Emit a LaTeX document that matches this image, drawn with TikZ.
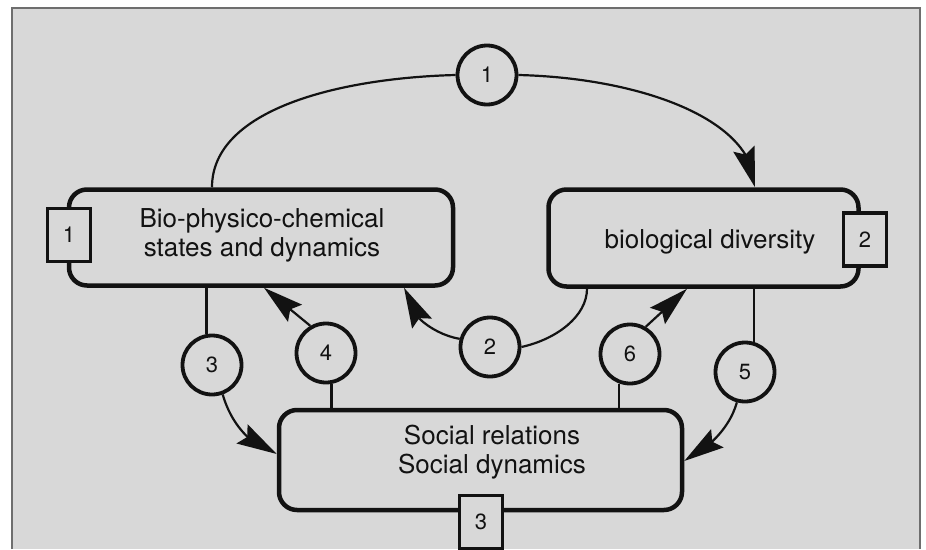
\documentclass[tikz,border=0pt]{standalone}
\usepackage{fontspec}
\setmainfont{TeX Gyre Heros}
\usetikzlibrary{arrows.meta,bending}
\definecolor{paper}{RGB}{216,216,216}
\definecolor{ink}{RGB}{18,18,18}
\definecolor{framecol}{RGB}{110,110,110}
\tikzset{
  bigbox/.style={draw=ink, line width=4.5pt, rounded corners=18pt, fill=paper, inner sep=0pt},
  boxtext/.style={text=ink, font=\fontsize{26}{29}\selectfont, align=center, inner sep=0pt},
  numcircle/.style={circle, draw=ink, line width=3.8pt, fill=paper, minimum size=59pt,
    inner sep=0pt, font=\fontsize{22}{22}\selectfont, text=ink},
  numsquare/.style={rectangle, draw=ink, line width=3.8pt, fill=paper, inner sep=0pt,
    minimum width=43pt, minimum height=53pt, font=\fontsize{22}{22}\selectfont, text=ink},
  link/.style={draw=ink, line width=2.2pt},
  arrowed/.style={-{Stealth[length=40pt,width=22pt,inset=6pt,flex]}}
}

\begin{document}
\begin{tikzpicture}[x=1pt,y=-1pt]
\useasboundingbox (0,0) rectangle (926,549);

% page and frame
\fill[white] (0,0) rectangle (926,549);
\fill[paper] (12,8) rectangle (920,549);
\draw[framecol, line width=1.2pt] (12,549) -- (12,8) -- (920,8) -- (920,549);

% the three domains
\node[bigbox, minimum width=384pt, minimum height=96pt] (box1) at (261,237.5) {};
\node[bigbox, minimum width=310pt, minimum height=97pt] (box2) at (703.5,238) {};
\node[bigbox, minimum width=403pt, minimum height=100pt] (box3) at (480.5,460) {};

\node[boxtext] (t1) at (262,235) {Bio-physico-chemical\\states and dynamics};
\node[boxtext] (t2) at (710,241.5) {biological diversity};
\node[boxtext] (t3) at (492,452.5) {Social relations\\Social dynamics};

\node[numsquare] (s1) at (69,235) {1};
\node[numsquare] (s2) at (865,239.5) {2};
\node[numsquare] (s3) at (481,522) {3};

% interaction circles
\node[numcircle] (c1) at (487,75) {1};
\node[numcircle] (c2) at (490,347) {2};
\node[numcircle] (c3) at (212,365) {3};
\node[numcircle] (c4) at (326,353) {4};
\node[numcircle] (c5) at (745,372) {5};
\node[numcircle] (c6) at (630,354) {6};

% interaction 1: physico-chemical -> biological diversity
\draw[link] ([xshift=-49pt]box1.north) .. controls +(0,-78) and +(-116,3) .. (c1.west);
\draw[link, arrowed] (c1.east) .. controls +(122,3) and +(0,-68) .. ([xshift=51.5pt]box2.north);

% interaction 2: biological diversity -> physico-chemical
\draw[link] (c2.0) .. controls +(36,-8) and +(0,27) .. ([xshift=-116.5pt]box2.south);
\draw[link, arrowed] (c2.165) .. controls +(-28,-5) and +(0,24) .. ([xshift=143pt]box1.south);

% interaction 3: physico-chemical -> social
\draw[link] (c3.100) -- (c3.100 |- box1.south);
\draw[link, arrowed] (c3.290) .. controls +(8,28) and +(-27,-8) .. ([yshift=6pt]box3.west);

% interaction 4: social -> physico-chemical
\draw[link] (c4.280) -- (c4.280 |- box3.north);
\draw[link, arrowed] (c4.120) -- ([xshift=3pt]box1.south);

% interaction 5: biological diversity -> social
\draw[link] (c5.73) -- (c5.73 |- box2.south);
\draw[link, arrowed] (c5.255) .. controls +(-6,22) and +(28,-14) .. ([yshift=-1pt]box3.east);

% interaction 6: social -> biological diversity
\draw[link] (c6.250) -- (c6.250 |- box3.north);
\draw[link, arrowed] (c6.60) -- ([xshift=-16.5pt]box2.south);
\end{tikzpicture}
\end{document}
